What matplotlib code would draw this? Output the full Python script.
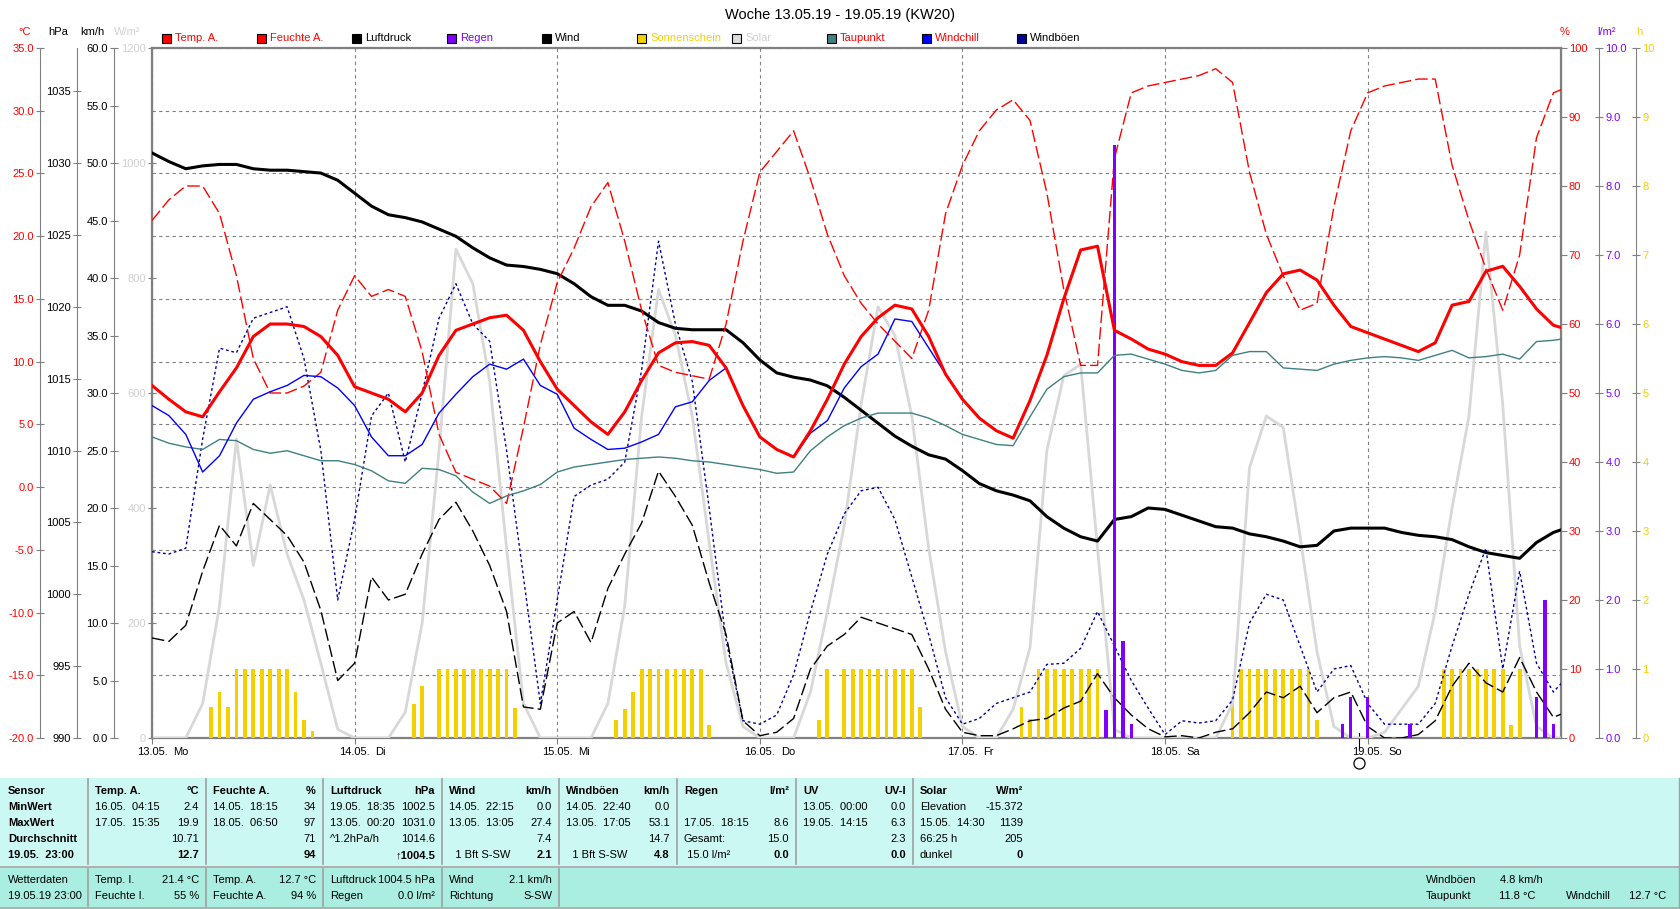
import numpy as np
import matplotlib.pyplot as plt
from matplotlib.patches import Rectangle
from matplotlib import transforms

plt.rcParams['font.family'] = ['Liberation Sans', 'DejaVu Sans']
plt.rcParams['font.size'] = 8

# ---- data (hours since 13.05. 00:00) ----
hours = list(range(0, 168, 2)) + [167]

temp = [8.1, 7.0, 6.0, 5.6, 7.6, 9.5, 12.0, 13.0, 13.0, 12.8, 12.0, 10.5,
        8.0, 7.5, 7.0, 6.0, 7.5, 10.5, 12.5, 13.0, 13.5, 13.7, 12.5, 10.0,
        7.8, 6.5, 5.2, 4.2, 6.0, 8.5, 10.7, 11.5, 11.6, 11.3, 9.5, 6.5,
        4.0, 3.0, 2.4, 4.5, 7.0, 9.8, 12.0, 13.5, 14.5, 14.2, 12.0, 9.0,
        7.0, 5.5, 4.5, 3.9, 6.9, 10.5, 15.0, 18.9, 19.2, 12.5, 11.8, 11.0,
        10.6, 10.0, 9.7, 9.7, 10.7, 13.1, 15.5, 17.0, 17.3, 16.5, 14.5, 12.8,
        12.3, 11.8, 11.3, 10.8, 11.5, 14.5, 14.8, 17.2, 17.6, 16.0, 14.2, 12.9, 12.7]

windchill = [6.5, 5.7, 4.2, 1.2, 2.5, 5.1, 7.0, 7.6, 8.1, 8.9, 8.8, 7.9,
             6.5, 4.0, 2.5, 2.5, 3.4, 5.9, 7.4, 8.8, 9.8, 9.4, 10.2, 8.1,
             7.4, 4.7, 3.8, 3.0, 3.1, 3.6, 4.2, 6.4, 6.8, 8.5, 9.5, 6.5,
             4.0, 3.0, 2.4, 4.3, 5.3, 7.9, 9.6, 10.6, 13.4, 13.2, 11.1, 9.0,
             7.0, 5.5, 4.5, 3.9, 6.9, 10.5, 15.0, 18.9, 19.2, 12.5, 11.8, 11.0,
             10.6, 10.0, 9.7, 9.7, 10.7, 13.1, 15.5, 17.0, 17.3, 16.5, 14.5, 12.8,
             12.3, 11.8, 11.3, 10.8, 11.5, 14.5, 14.8, 17.2, 17.6, 16.0, 14.2, 12.9, 12.7]

dewpoint = [4.0, 3.5, 3.2, 3.0, 3.8, 3.7, 3.0, 2.7, 2.9, 2.5, 2.1, 2.1,
            1.8, 1.3, 0.5, 0.3, 1.5, 1.4, 0.9, -0.4, -1.3, -0.7, -0.3, 0.2,
            1.2, 1.6, 1.8, 2.0, 2.2, 2.3, 2.4, 2.3, 2.1, 2.0, 1.8, 1.6,
            1.4, 1.1, 1.2, 2.9, 4.0, 4.9, 5.5, 5.9, 5.9, 5.9, 5.5, 4.9,
            4.2, 3.8, 3.4, 3.3, 5.6, 7.8, 8.8, 9.1, 9.1, 10.5, 10.6, 10.2,
            9.8, 9.3, 9.1, 9.3, 10.5, 10.8, 10.8, 9.5, 9.4, 9.3, 9.8, 10.1,
            10.3, 10.4, 10.3, 10.1, 10.5, 10.9, 10.3, 10.4, 10.6, 10.2, 11.6, 11.7, 11.8]

humidity = [75, 78, 80, 80, 76, 67, 55, 50, 50, 51, 53, 62,
            67, 64, 65, 64, 56, 44, 38.5, 37.5, 36.5, 34, 45, 57,
            66, 71, 77, 80.5, 72, 62, 54, 53, 52.5, 52, 60, 72,
            82, 85, 88, 81, 73, 67, 63, 60, 57.5, 55, 62, 76,
            83, 88, 91, 92.5, 89.5, 79, 65, 54, 54, 84, 93.5, 94.5,
            95, 95.5, 96, 97, 95, 82, 73, 67, 62, 63, 77, 88,
            93.5, 94.5, 95, 95.5, 95.5, 83, 75, 68, 62, 70, 87, 93.5, 94]

pressure = [1030.7, 1030.1, 1029.6, 1029.8, 1029.9, 1029.9, 1029.6, 1029.5, 1029.5, 1029.4, 1029.3, 1028.8,
            1027.9, 1027.0, 1026.4, 1026.2, 1025.9, 1025.4, 1024.9, 1024.1, 1023.4, 1022.9, 1022.8, 1022.6,
            1022.3, 1021.6, 1020.7, 1020.1, 1020.1, 1019.7, 1018.9, 1018.5, 1018.4, 1018.4, 1018.4, 1017.5,
            1016.3, 1015.4, 1015.1, 1014.9, 1014.5, 1013.7, 1012.8, 1011.9, 1011.0, 1010.3, 1009.7, 1009.4,
            1008.6, 1007.7, 1007.2, 1006.9, 1006.5, 1005.4, 1004.6, 1004.0, 1003.7, 1005.2, 1005.4, 1006.0,
            1005.9, 1005.5, 1005.1, 1004.7, 1004.6, 1004.2, 1004.0, 1003.7, 1003.3, 1003.4, 1004.4, 1004.6,
            1004.6, 1004.6, 1004.3, 1004.1, 1004.0, 1003.8, 1003.3, 1002.9, 1002.7, 1002.5, 1003.6, 1004.3, 1004.5]

wind = [8.7, 8.4, 9.8, 14.5, 18.5, 16.7, 20.4, 19.0, 17.6, 15.3, 11.1, 5.0,
        6.5, 14.0, 12.0, 12.5, 16.0, 19.0, 20.5, 18.0, 15.0, 11.0, 2.7, 2.5,
        10.0, 11.0, 8.3, 13.0, 16.0, 18.7, 23.2, 21.0, 18.5, 13.5, 9.0, 1.5,
        0.2, 0.5, 1.7, 6.0, 8.0, 9.0, 10.5, 10.0, 9.5, 9.0, 6.0, 2.5,
        0.5, 0.2, 0.2, 0.8, 1.5, 1.7, 2.6, 3.2, 5.6, 3.5, 2.0, 0.8,
        0.1, 0.2, 0.0, 0.5, 0.8, 2.2, 4.0, 3.5, 4.5, 2.2, 3.5, 4.0,
        1.0, 0.0, 0.0, 0.3, 1.5, 4.5, 6.5, 4.8, 4.0, 7.0, 4.0, 1.8, 2.1]

gusts = [16.2, 16.0, 16.5, 26.0, 33.9, 33.5, 36.5, 37.0, 37.5, 33.0, 25.0, 12.0,
         19.0, 28.0, 30.0, 24.0, 30.0, 36.5, 39.5, 36.0, 34.5, 25.0, 14.0, 3.0,
         12.0, 21.0, 22.0, 22.5, 24.0, 32.0, 43.2, 36.0, 31.0, 20.0, 8.5, 1.5,
         1.2, 2.0, 5.5, 11.0, 16.0, 19.5, 21.5, 21.8, 19.0, 14.0, 9.0, 3.5,
         1.2, 1.7, 3.0, 3.5, 4.0, 6.4, 6.5, 7.8, 11.0, 8.0, 5.0, 2.6,
         0.3, 1.5, 1.3, 1.5, 3.3, 10.0, 12.5, 12.0, 8.0, 4.0, 6.0, 6.3,
         3.0, 1.2, 1.2, 1.2, 3.0, 8.0, 12.5, 16.5, 6.0, 14.5, 6.5, 4.0, 4.8]

solar = [0, 0, 0, 60, 230, 520, 300, 440, 320, 240, 130, 15,
         0, 0, 0, 45, 200, 500, 850, 790, 620, 330, 60, 0,
         0, 0, 0, 60, 230, 560, 780, 700, 560, 340, 130, 20,
         0, 0, 0, 80, 220, 370, 580, 750, 700, 560, 330, 150,
         20, 0, 0, 50, 157, 500, 630, 650, 330, 15, 0, 0,
         0, 0, 0, 0, 60, 470, 560, 540, 350, 150, 20, 0,
         0, 10, 50, 90, 220, 400, 560, 880, 580, 160, 20, 0, 0]

sun_hours = [7, 8, 9, 10, 11, 12, 13, 14, 15, 16, 17, 18, 19,
             31, 32, 34, 35, 36, 37, 38, 39, 40, 41, 42, 43,
             55, 56, 57, 58, 59, 60, 61, 62, 63, 64, 65, 66,
             79, 80, 82, 83, 84, 85, 86, 87, 88, 89, 90, 91,
             103, 104, 105, 106, 107, 108, 109, 110, 111, 112, 113,
             128, 129, 130, 131, 132, 133, 134, 135, 136, 137, 138,
             153, 154, 155, 156, 157, 158, 159, 160, 161, 162]
sunshine = [0.45, 0.67, 0.45, 1, 1, 1, 1, 1, 1, 1, 0.67, 0.26, 0.1,
            0.5, 0.75, 1, 1, 1, 1, 1, 1, 1, 1, 1, 0.43,
            0.26, 0.42, 0.67, 1, 1, 1, 1, 1, 1, 1, 1, 0.19,
            0.26, 1, 1, 1, 1, 1, 1, 1, 1, 1, 1, 0.45,
            0.45, 0.27, 1, 1, 1, 1, 1, 1, 1, 1, 0.25,
            0.6, 1, 1, 1, 1, 1, 1, 1, 1, 1, 0.26,
            1, 1, 1, 1, 1, 1, 1, 1, 0.19, 1]

rain_hours = [113, 114, 115, 116, 141, 142, 144, 149, 164, 165, 166]
rain = [0.4, 8.6, 1.4, 0.2, 0.2, 0.6, 0.6, 0.2, 0.6, 2.0, 0.2]

day_hours = [0, 24, 48, 72, 96, 120, 144]
day_labels = ["13.05.", "14.05.", "15.05.", "16.05.", "17.05.", "18.05.", "19.05."]
weekdays = ["Mo", "Di", "Mi", "Do", "Fr", "Sa", "So"]
moon_hour = 143.0

title = "Woche 13.05.19 - 19.05.19 (KW20)"
legend_items = [("Temp. A.", "#FF0000", "#FF0000"), ("Feuchte A.", "#FF0000", "#FF0000"),
                ("Luftdruck", "black", "black"), ("Regen", "#8000FF", "#8000FF"),
                ("Wind", "black", "black"), ("Sonnenschein", "#F5D000", "#F5D000"),
                ("Solar", "#DCDCDC", "#D0D0D0"), ("Taupunkt", "#408080", "#FF0000"),
                ("Windchill", "#0000FF", "#FF0000"), ("Windböen", "#000099", "black")]

# summary table (header, rows of (left text, right value))
table_cols = [
    ("Temp. A.", "°C", [("16.05.  04:15", "2.4"), ("17.05.  15:35", "19.9"), ("", "10.71"), ("", "12.7")]),
    ("Feuchte A.", "%", [("14.05.  18:15", "34"), ("18.05.  06:50", "97"), ("", "71"), ("", "94")]),
    ("Luftdruck", "hPa", [("19.05.  18:35", "1002.5"), ("13.05.  00:20", "1031.0"), ("^1.2hPa/h", "1014.6"), ("", "↑1004.5")]),
    ("Wind", "km/h", [("14.05.  22:15", "0.0"), ("13.05.  13:05", "27.4"), ("", "7.4"), ("  1 Bft S-SW", "2.1")]),
    ("Windböen", "km/h", [("14.05.  22:40", "0.0"), ("13.05.  17:05", "53.1"), ("", "14.7"), ("  1 Bft S-SW", "4.8")]),
    ("Regen", "l/m²", [("", ""), ("17.05.  18:15", "8.6"), ("Gesamt:", "15.0"), (" 15.0 l/m²", "0.0")]),
    ("UV", "UV-I", [("13.05.  00:00", "0.0"), ("19.05.  14:15", "6.3"), ("", "2.3"), ("", "0.0")]),
    ("Solar", "W/m²", [("Elevation", "-15.372"), ("15.05.  14:30", "1139"), ("66:25 h", "205"), ("dunkel", "0")]),
]
row_names = ["Sensor", "MinWert", "MaxWert", "Durchschnitt", "19.05.  23:00"]
now_cols = [
    [("Temp. I.", "21.4 °C"), ("Feuchte I.", "55 %")],
    [("Temp. A.", "12.7 °C"), ("Feuchte A.", "94 %")],
    [("Luftdruck", "1004.5 hPa"), ("Regen", "0.0 l/m²")],
    [("Wind", "2.1 km/h"), ("Richtung", "S-SW")],
]
now_names = ["Wetterdaten", "19.05.19 23:00"]

# ---- colours / layout ----
RED, PURPLE, GOLD = "#FF0000", "#8000FF", "#F5D000"
LGRAY, TEAL, GRAY = "#D0D0D0", "#408080", "#808080"

W, H = 1680, 909
L, R, T, B = 152, 1561, 48, 738

fig = plt.figure(figsize=(W / 100, H / 100), dpi=100)
ax = fig.add_axes([L / W, 1 - B / H, (R - L) / W, (B - T) / H])
ax.set_xlim(0, 166.9)
ax.set_ylim(-20, 35)


def frac(px):
    return (px - L) / (R - L)


def scale_axis(lo, hi, ticks, fmt, color, px, side, direction='inout'):
    a = ax.twinx()
    a.set_ylim(lo, hi)
    for s in a.spines.values():
        s.set_visible(False)
    sp = a.spines[side]
    sp.set_visible(True)
    sp.set_position(('axes', frac(px)))
    sp.set_color(GRAY)
    sp.set_linewidth(0.8)
    a.yaxis.set_ticks_position(side)
    a.set_yticks(list(ticks))
    a.set_yticklabels([fmt.format(v) for v in ticks])
    a.tick_params(axis='y', direction=direction, length=6 if direction == 'inout' else 4,
                  width=0.8, color=GRAY, labelcolor=color, labelsize=8, pad=1.5)
    return a


ax_sun = scale_axis(0, 10, range(0, 11), '{:d}', GOLD, 1636, 'right')
ax_sol = scale_axis(0, 1200, range(0, 1201, 200), '{:d}', LGRAY, L, 'left')
ax_wind = scale_axis(0, 60, range(0, 61, 5), '{:.1f}', 'black', 114, 'left')
ax_p = scale_axis(990, 1038, range(990, 1036, 5), '{:d}', 'black', 77, 'left')
ax_hum = scale_axis(0, 100, range(0, 101, 10), '{:d}', RED, R, 'right', 'out')
ax_rain = scale_axis(0, 10, range(0, 11), '{:.1f}', PURPLE, 1599, 'right')
ax_c = scale_axis(-20, 35, range(-20, 36, 5), '{:.1f}', RED, 40, 'left')

# frame, grid, day ticks on the base axes
for s in ax.spines.values():
    s.set_color(GRAY)
    s.set_linewidth(1.6)
ax.set_yticks(range(-20, 36, 5))
ax.set_xticks(day_hours)
ax.set_xticklabels([])
ax.tick_params(axis='y', left=False, right=False, labelleft=False, labelright=False)
ax.tick_params(axis='x', direction='out', length=4, width=0.8, color=GRAY)
ax.grid(True, color=GRAY, linestyle=(0, (3, 3)), linewidth=0.8)

# series
ax_sun.bar(sun_hours, sunshine, width=0.45, color=GOLD, linewidth=0)
ax_sol.plot(hours, solar, color="#D8D8D8", lw=2.0)
ax_wind.plot(hours, gusts, color="#0000A0", lw=1.0, dashes=(2, 2))
ax_wind.plot(hours, wind, color="black", lw=1.0, dashes=(9, 3))
ax_p.plot(hours, pressure, color="black", lw=2.2)
ax_hum.plot(hours, humidity, color=RED, lw=1.0, dashes=(9, 3))
ax_rain.bar(rain_hours, rain, width=0.4, color=PURPLE, linewidth=0)
ax_c.plot(hours, dewpoint, color=TEAL, lw=1.0)
ax_c.plot(hours, windchill, color="#0000FF", lw=1.0)
ax_c.plot(hours, temp, color=RED, lw=2.2)

# date labels under the axis
tb = transforms.blended_transform_factory(ax.transData, ax.transAxes)
for d, lbl, wd in zip(day_hours, day_labels, weekdays):
    ax.text(d, -0.021, lbl, transform=tb, ha='center', va='center', fontsize=8)
    ax.text(d, -0.021, wd, ha='left', va='center', fontsize=8,
            transform=transforms.offset_copy(tb, fig=fig, x=21, y=0, units='dots'))
ax.plot([moon_hour, moon_hour], [0.007, -0.015], color='black', lw=0.8,
        transform=tb, clip_on=False)
ax.plot([moon_hour], [-0.036], marker='o', ms=8, mfc='none', mec='black', mew=0.9,
        transform=tb, clip_on=False)

# overlay in pixel coordinates for title, legend, headers and table
ov = fig.add_axes([0, 0, 1, 1])
ov.set_xlim(0, W)
ov.set_ylim(H, 0)
ov.axis('off')
ov.patch.set_visible(False)

ov.text(840, 15, title, ha='center', va='center', fontsize=10.5)
for x, s, c in [(25, "°C", RED), (58, "hPa", "black"), (92, "km/h", "black"), (127, "W/m²", LGRAY),
                (1565, "%", RED), (1607, "l/m²", PURPLE), (1639, "h", GOLD)]:
    ov.text(x, 32, s, ha='center', va='center', color=c, fontsize=8)

for i, (lbl, sq, tc) in enumerate(legend_items):
    x0 = 162 + i * 95
    ov.add_patch(Rectangle((x0, 33.5), 9, 9, facecolor=sq, edgecolor='black', lw=0.8))
    ov.text(x0 + 13, 38, lbl, color=tc, ha='left', va='center', fontsize=8)

# table
ov.add_patch(Rectangle((0, 778), W, 88, facecolor="#CCF8F4", edgecolor="none"))
ov.add_patch(Rectangle((0, 868), W, 39, facecolor="#AAEEE2", edgecolor="none"))
ov.plot([0, W], [866.5, 866.5], color="#A0A0A0", lw=1.2)
ov.plot([0, W], [907.5, 907.5], color="#A0A0A0", lw=1.2)
ov.plot([W - 1, W - 1], [778, 907], color="#A0A0A0", lw=1.0)

seps = [88, 206, 323, 442, 559, 677, 796, 913]
for s in seps:
    ov.plot([s, s], [779, 864], color="#A0A0A0", lw=1.2)
for s in seps[:5]:
    ov.plot([s, s], [869, 906], color="#A0A0A0", lw=1.2)

rows_y = [791, 807, 823, 839, 855]
for y, name in zip(rows_y, row_names):
    ov.text(8, y, name, ha='left', va='center', fontweight='bold', fontsize=8)
lefts = [0] + seps
for i, (head, unit, rows) in enumerate(table_cols):
    x0, x1 = seps[i] + 7, (seps[i + 1] if i + 1 < len(seps) else 1030) - 7
    ov.text(x0, rows_y[0], head, ha='left', va='center', fontweight='bold', fontsize=8)
    ov.text(x1, rows_y[0], unit, ha='right', va='center', fontweight='bold', fontsize=8)
    for j, (lt, rt) in enumerate(rows):
        y = rows_y[j + 1]
        bold = 'bold' if j == 3 else 'normal'
        ov.text(x0, y, lt, ha='left', va='center', fontsize=8)
        ov.text(x1, y, rt, ha='right', va='center', fontsize=8, fontweight=bold)

now_y = [880, 896]
for y, name in zip(now_y, now_names):
    ov.text(8, y, name, ha='left', va='center', fontsize=8)
for i, rows in enumerate(now_cols):
    x0, x1 = seps[i] + 7, seps[i + 1] - 7
    for y, (lt, rt) in zip(now_y, rows):
        ov.text(x0, y, lt, ha='left', va='center', fontsize=8)
        ov.text(x1, y, rt, ha='right', va='center', fontsize=8)
ov.text(1426, now_y[0], "Windböen", ha='left', va='center', fontsize=8)
ov.text(1500, now_y[0], "4.8 km/h", ha='left', va='center', fontsize=8)
ov.text(1426, now_y[1], "Taupunkt", ha='left', va='center', fontsize=8)
ov.text(1499, now_y[1], "11.8 °C", ha='left', va='center', fontsize=8)
ov.text(1566, now_y[1], "Windchill", ha='left', va='center', fontsize=8)
ov.text(1629, now_y[1], "12.7 °C", ha='left', va='center', fontsize=8)

fig.savefig("out.png", dpi=100)
